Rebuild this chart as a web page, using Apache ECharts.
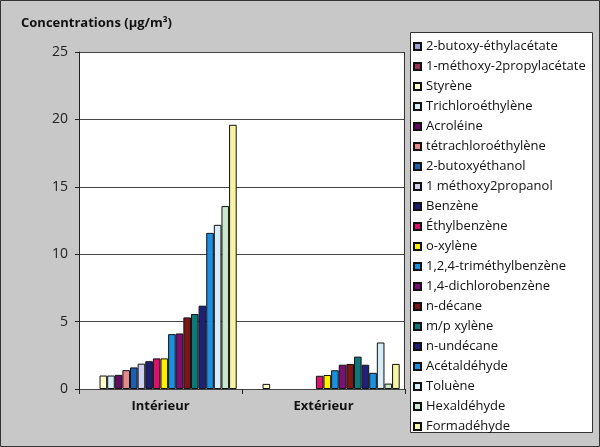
<!DOCTYPE html>
<html>
<head>
<meta charset="utf-8">
<script src="https://cdn.jsdelivr.net/npm/echarts@6/dist/echarts.min.js"></script>
<style>html,body{margin:0;padding:0;background:#c8c8c8}#c{width:600px;height:447px}</style>
</head>
<body>
<div id="c"></div>
<script>
var categories = ['Intérieur', 'Extérieur'];
var seriesNames = ['2-butoxy-éthylacétate','1-méthoxy-2propylacétate','Styrène','Trichloroéthylène','Acroléine','tétrachloroéthylène','2-butoxyéthanol','1 méthoxy2propanol','Benzène','Éthylbenzène','o-xylène','1,2,4-triméthylbenzène','1,4-dichlorobenzène','n-décane','m/p xylène','n-undécane','Acétaldéhyde','Toluène','Hexaldéhyde','Formadéhyde'];
var interieur = [null, null, 1.0, 1.0, 1.05, 1.4, 1.6, 1.88, 2.06, 2.27, 2.27, 4.07, 4.12, 5.31, 5.56, 6.18, 11.58, 12.18, 13.57, 19.6];
var exterieur = [null, null, 0.38, null, null, null, null, null, null, 0.98, 1.04, 1.39, 1.8, 1.86, 2.4, 1.8, 1.2, 3.45, 0.4, 1.86];
var colors = ['#A0A0D0','#993355','#FFFFCC','#D6EDF7','#660A66','#E68A8A','#1E5FB0','#D0D0EC','#1E1E6E','#D6136E','#FFF000','#1B8FE0','#7A1074','#7A1818','#0E7878','#20207A','#1B8FE0','#D6EDF7','#CCE8CC','#F7F4A2'];
var yTicks = [0, 5, 10, 15, 20, 25];

var FONT = 'Open Sans';
var series = seriesNames.map(function (name, i) {
  return {
    name: name,
    type: 'bar',
    data: [interieur[i], exterieur[i]],
    barGap: '0%',
    barCategoryGap: '6.5%',
    itemStyle: { color: colors[i], borderColor: '#111', borderWidth: 1 }
  };
});

var chart = echarts.init(document.getElementById('c'), null, { renderer: 'canvas' });
chart.setOption({
  backgroundColor: '#c8c8c8',
  animation: false,
  title: {
    text: 'Concentrations (µg/m³)',
    left: 16, top: 12,
    textStyle: { fontFamily: FONT, fontSize: 13, fontWeight: 'bold', color: '#111' }
  },
  graphic: [
    { type: 'rect', z: -1, shape: { x: 79, y: 52, width: 326, height: 337 }, style: { fill: '#ffffff' } },
    { type: 'rect', z: -1, shape: { x: 410.5, y: 32.5, width: 182, height: 400 }, style: { fill: '#ffffff', stroke: '#333', lineWidth: 1 } },
    { type: 'line', z: 5, shape: { x1: 404.5, y1: 52, x2: 404.5, y2: 389 }, style: { stroke: '#333', lineWidth: 1 } },
    { type: 'rect', z: 10, shape: { x: 0.5, y: 0.5, width: 599, height: 446 }, style: { fill: 'none', stroke: '#333', lineWidth: 1 } }
  ],
  legend: {
    orient: 'vertical',
    left: 408, top: 35,
    itemWidth: 7, itemHeight: 7,
    itemGap: 7,
    icon: 'rect',
    textStyle: { fontFamily: FONT, fontSize: 13, color: '#111', lineHeight: 13 },
    data: seriesNames
  },
  grid: { left: 79, top: 52, right: 195, bottom: 58 },
  xAxis: {
    type: 'category',
    data: categories,
    axisLine: { show: false },
    axisTick: { show: true, length: 5, lineStyle: { color: '#222' } },
    axisLabel: { fontFamily: FONT, fontSize: 13, fontWeight: 'bold', color: '#111', margin: 11 }
  },
  yAxis: {
    type: 'value',
    min: 0, max: 25, interval: 5,
    axisLine: { show: true, lineStyle: { color: '#222' } },
    axisTick: { show: true, length: 4, lineStyle: { color: '#222' } },
    axisLabel: { fontFamily: FONT, fontSize: 14, color: '#222', margin: 11,
      formatter: function (v) { return yTicks.indexOf(v) >= 0 ? String(v) : ''; } },
    splitLine: { show: true, lineStyle: { color: '#444', width: 1 } }
  },
  series: series
});
</script>
</body>
</html>
